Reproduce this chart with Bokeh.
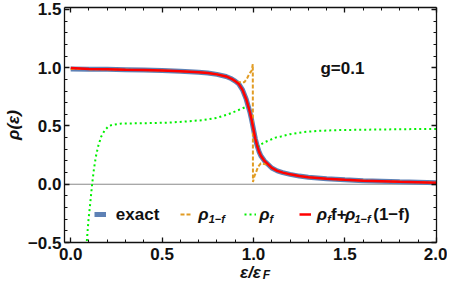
import numpy as np
from bokeh.plotting import figure
from bokeh.models import (Range1d, LinearAxis, FixedTicker, CustomJSTickFormatter,
                          Span, Label, Legend, LegendItem)
from bokeh.core.properties import value
from bokeh.embed import file_html
from bokeh.resources import INLINE

nan = float("nan")

# exact density of states (blue)
x_exact = [0.0, 0.1, 0.2, 0.3, 0.4, 0.5, 0.6, 0.7, 0.75, 0.8, 0.85, 0.88, 0.9, 0.92,
           0.94, 0.96, 0.98, 0.99, 1.0, 1.01, 1.02, 1.03, 1.04, 1.06, 1.08, 1.1, 1.13,
           1.16, 1.2, 1.25, 1.3, 1.4, 1.5, 1.6, 1.7, 1.8, 1.9, 2.0]
rho_exact = [0.99, 0.988, 0.986, 0.983, 0.98, 0.976, 0.97, 0.962, 0.955, 0.943, 0.925,
             0.905, 0.885, 0.86, 0.81, 0.73, 0.62, 0.55, 0.47, 0.39, 0.33, 0.28, 0.245,
             0.2, 0.17, 0.14, 0.115, 0.1, 0.085, 0.07, 0.06, 0.047, 0.038, 0.031, 0.026,
             0.021, 0.017, 0.013]

# rho_f f + rho_{1-f}(1-f) (red)
x_mix = x_exact
rho_mix = [0.998, 0.99, 0.987, 0.983, 0.98, 0.976, 0.97, 0.962, 0.955, 0.943, 0.925,
           0.905, 0.885, 0.86, 0.81, 0.73, 0.62, 0.55, 0.47, 0.39, 0.33, 0.28, 0.245,
           0.2, 0.17, 0.14, 0.115, 0.1, 0.085, 0.07, 0.06, 0.047, 0.038, 0.031, 0.026,
           0.021, 0.017, 0.013]

# rho_{1-f} (orange dashed)
x_1mf = [0.0, 0.1, 0.2, 0.3, 0.4, 0.5, 0.6, 0.7, 0.75, 0.8, 0.85, 0.88, 0.9, 0.92, 0.95,
         0.965, 0.978, 0.99, 0.996, 0.997, 1.005, 1.013, 1.025, 1.04, 1.065, 1.08, 1.1,
         1.13, 1.16, 1.2, 1.25, 1.3, 1.4, 1.5, 1.6, 1.7, 1.8, 1.9, 2.0]
rho_1mf = [0.99, 0.988, 0.986, 0.983, 0.98, 0.976, 0.97, 0.962, 0.955, 0.943, 0.925,
           0.905, 0.885, 0.875, 0.875, 0.91, 0.95, 0.975, 1.03, 0.02, 0.07, 0.10, 0.15,
           0.18, 0.172, 0.17, 0.14, 0.115, 0.1, 0.085, 0.07, 0.06, 0.047, 0.038, 0.031,
           0.026, 0.021, 0.017, 0.013]

# rho_f (green dotted)
x_f = [0.086, 0.097, 0.106, 0.117, 0.127, 0.138, 0.15, 0.167, 0.185, 0.208, 0.23, 0.27,
       0.35, 0.45, 0.55, 0.64, 0.72, 0.8, 0.86, 0.9, 0.93, 0.96, 0.975, nan, 1.02, 1.04,
       1.06, 1.09, 1.12, 1.15, 1.2, 1.27, 1.35, 1.45, 1.55, 1.7, 1.85, 2.0]
rho_f = [-0.53, -0.31, -0.175, 0.0, 0.13, 0.24, 0.325, 0.41, 0.46, 0.5, 0.51, 0.52, 0.523,
         0.525, 0.53, 0.54, 0.55, 0.57, 0.6, 0.625, 0.645, 0.665, 0.675, nan, 0.32, 0.34,
         0.36, 0.38, 0.40, 0.41, 0.43, 0.447, 0.458, 0.464, 0.467, 0.47, 0.473, 0.475]

x_ticks = [0.0, 0.5, 1.0, 1.5, 2.0]
y_ticks = [-0.5, 0.0, 0.5, 1.0, 1.5]
g_text = "g=0.1"

FONT = "Liberation Sans"
INK = "#111111"

p = figure(width=447, height=288, output_backend="svg", toolbar_location=None,
           x_range=Range1d(-0.034, 2.001), y_range=Range1d(-0.5, 1.517),
           x_axis_type=None, y_axis_type=None,
           min_border_left=58, min_border_right=11, min_border_top=7, min_border_bottom=46)
p.outline_line_color = None
p.background_fill_color = "white"
p.border_fill_color = "white"

x_minor = [round(v, 2) for v in np.arange(-0.0, 2.01, 0.1) if round(v, 2) not in x_ticks]
y_minor = [round(v, 2) for v in np.arange(-0.5, 1.51, 0.1) if round(v, 2) not in y_ticks]

fmt = CustomJSTickFormatter(code="return (tick < 0 ? '\u2212' : '') + Math.abs(tick).toFixed(1);")
blank = CustomJSTickFormatter(code="return '';")

def style_axis(ax, labelled, standoff):
    ax.axis_line_color = INK
    ax.axis_line_width = 1.3
    ax.major_tick_in = 5
    ax.major_tick_out = 0
    ax.minor_tick_in = 3
    ax.minor_tick_out = 0
    ax.major_tick_line_color = INK
    ax.major_tick_line_width = 1.3
    ax.minor_tick_line_color = INK
    ax.minor_tick_line_width = 1
    ax.major_label_text_font = FONT
    ax.major_label_text_font_style = "bold"
    ax.major_label_text_color = INK
    ax.major_label_standoff = standoff
    if labelled:
        ax.major_label_text_font_size = "17px"
    else:
        ax.major_label_text_font_size = "1px"

xb = LinearAxis(ticker=FixedTicker(ticks=x_ticks, minor_ticks=x_minor), formatter=fmt)
style_axis(xb, True, 5)
xb.axis_label = "\u03b5/\u03b5"
xb.axis_label_text_font = FONT
xb.axis_label_text_font_style = "bold italic"
xb.axis_label_text_font_size = "17px"
xb.axis_label_text_color = INK
xb.axis_label_standoff = 0
p.add_layout(xb, "below")
xt = LinearAxis(ticker=FixedTicker(ticks=x_ticks, minor_ticks=x_minor), formatter=blank)
style_axis(xt, False, 0)
p.add_layout(xt, "above")
yl = LinearAxis(ticker=FixedTicker(ticks=y_ticks, minor_ticks=y_minor), formatter=fmt)
style_axis(yl, True, 3)
yl.axis_label = "\u03c1(\u03b5)"
yl.axis_label_text_font = FONT
yl.axis_label_text_font_style = "bold italic"
yl.axis_label_text_font_size = "17px"
yl.axis_label_text_color = INK
yl.axis_label_standoff = 2
p.add_layout(yl, "left")
yr = LinearAxis(ticker=FixedTicker(ticks=y_ticks, minor_ticks=y_minor), formatter=blank)
style_axis(yr, False, 0)
p.add_layout(yr, "right")

zero = Span(location=0, dimension="width", line_color="#8a8a8a", line_width=1, level="underlay")
p.add_layout(zero)

r_exact = p.line(x_exact, rho_exact, line_color="#5E81B5", line_width=5)
r_1mf = p.line(x_1mf, rho_1mf, line_color="#E19C24", line_width=2, line_dash="4 2")
r_f = p.line(x_f, rho_f, line_color="#00F000", line_width=2, line_dash="2 3")
r_mix = p.line(x_mix, rho_mix, line_color="#FF0000", line_width=2.5)

# legend swatches (one single-item legend each), positions in frame pixels
FRAME_W, FRAME_H = 378, 231
PX = FRAME_W / 2.035
def fpx(d):
    return (d + 0.034) * PX

ly = -0.258
leg_y = (ly + 0.5) * FRAME_H / 2.017 - 5
for r, d0 in [(r_exact, 0.127), (r_1mf, 0.592), (r_f, 0.934), (r_mix, 1.233)]:
    leg = Legend(items=[LegendItem(label=value(""), renderers=[r])],
                 location=(fpx(d0), leg_y), orientation="horizontal",
                 glyph_width=12, glyph_height=10, label_height=10, label_width=0,
                 label_standoff=0, padding=0, margin=0, spacing=0,
                 background_fill_alpha=0, border_line_alpha=0,
                 label_text_font_size="1px")
    p.add_layout(leg)

def lab(x, y, text, size, style, yoff=0, place="center"):
    lb = Label(x=x, y=y, text=text, text_font=FONT, text_font_size=f"{size}px",
               text_font_style=style, text_baseline="middle", text_align="left",
               y_offset=yoff, text_color=INK)
    if place == "center":
        p.add_layout(lb)
    else:
        p.add_layout(lb, place)

lab(0.247, ly, "exact", 17, "bold")
lab(0.697, ly, "\u03c1", 17, "bold italic")
lab(0.755, ly, "1\u2212f", 11, "bold italic", -5)
lab(1.031, ly, "\u03c1", 17, "bold italic")
lab(1.087, ly, "f", 11, "bold italic", -5)
lab(1.346, ly, "\u03c1", 17, "bold italic")
lab(1.403, ly, "f", 11, "bold italic", -5)
lab(1.424, ly, "f+", 17, "bold")
lab(1.501, ly, "\u03c1", 17, "bold italic")
lab(1.552, ly, "1\u2212f", 11, "bold italic", -5)
lab(1.655, ly, "(1\u2212f)", 17, "bold")

lab(1.366, 0.99, g_text, 17, "bold")

# subscript F of the x-axis label (kept in a side panel so it is not clipped)
lab(1.05, -0.745, "F", 12, "bold italic", -4, "right")

open("out.html", "w").write(file_html(p, INLINE))
